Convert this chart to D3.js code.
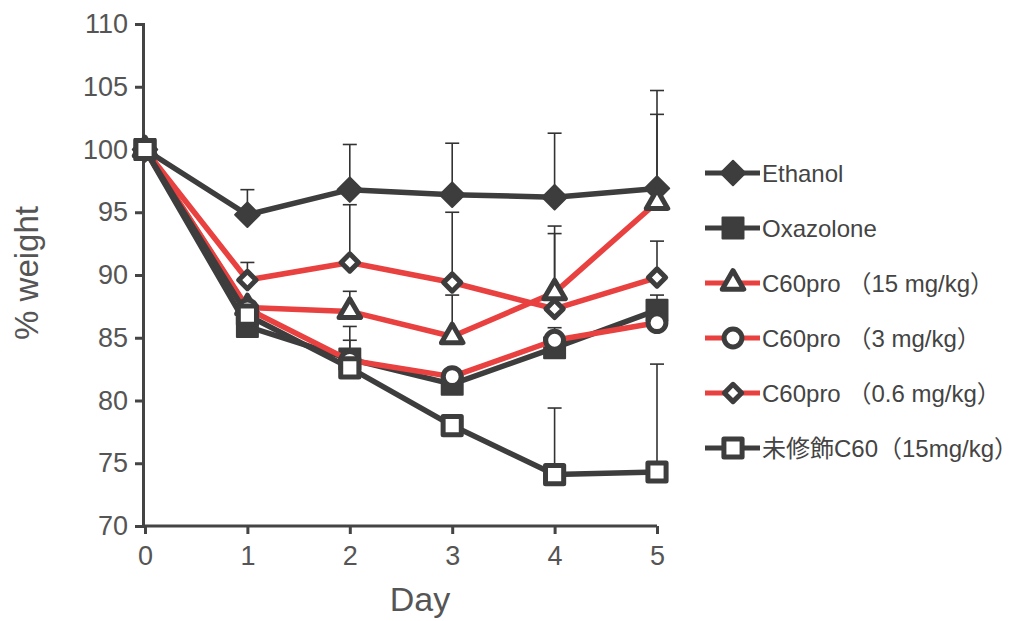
<!DOCTYPE html>
<html>
<head>
<meta charset="utf-8">
<script src="https://cdn.jsdelivr.net/npm/d3@7"></script>
<style>
  body { margin: 0; background: #fff; }
  text { font-family: "Liberation Sans", Arial, "Noto Sans CJK JP", sans-serif; }
</style>
</head>
<body>
<svg id="chart" width="1023" height="621"></svg>
<script>
// values
var days = [0, 1, 2, 3, 4, 5]
var yTicks = [70, 75, 80, 85, 90, 95, 100, 105, 110]

var ethanol      = [100, 94.8, 96.8, 96.4, 96.2, 96.9]
var ethanolErr   = [0, 2.0, 3.6, 4.1, 5.1, 7.8]
var oxazolone    = [100, 85.9, 83.3, 81.3, 84.2, 87.2]
var oxazoloneErr = [0, 0.8, 1.5, 1.0, 1.2, 1.2]
var c60pro15     = [100, 87.4, 87.1, 85.1, 88.6, 95.8]
var c60pro15Err  = [0, 0, 1.6, 3.3, 5.3, 7.0]
var c60pro3      = [100, 87.3, 83.2, 81.9, 84.8, 86.2]
var c60pro3Err   = [0, 0.5, 2.7, 0.5, 1.0, 0.5]
var c60pro06     = [100, 89.6, 91.0, 89.4, 87.3, 89.8]
var c60pro06Err  = [0, 1.4, 4.6, 5.6, 6.0, 2.9]
var rawC60       = [100, 86.8, 82.6, 78.0, 74.1, 74.3]
var rawC60Err    = [0, 0.3, 0.3, 0.5, 5.3, 8.6]

var dark = "#3d3d3d", red = "#e8413f"

var series = [
  {name: "Ethanol", vals: ethanol, err: ethanolErr, line: dark, shape: "diamond", fill: dark, size: 300},
  {name: "Oxazolone", vals: oxazolone, err: oxazoloneErr, line: dark, shape: "square", fill: dark, size: 440},
  {name: "C60pro （15 mg/kg）", vals: c60pro15, err: c60pro15Err, line: red, shape: "triangle", fill: "#fff", size: 200},
  {name: "C60pro （3 mg/kg）", vals: c60pro3, err: c60pro3Err, line: red, shape: "circle", fill: "#fff", size: 250},
  {name: "C60pro （0.6 mg/kg）", vals: c60pro06, err: c60pro06Err, line: red, shape: "diamond", fill: "#fff", size: 150},
  {name: "未修飾C60（15mg/kg）", vals: rawC60, err: rawC60Err, line: dark, shape: "square", fill: "#fff", size: 330}
]

var svg = d3.select("#chart")

var x = d3.scaleLinear().domain([0, 5]).range([145, 657])
var y = d3.scaleLinear().domain([70, 110]).range([526, 24])

// axes
svg.append("g")
  .attr("transform", "translate(143,0)")
  .call(d3.axisLeft(y).tickValues(yTicks).tickSize(8).tickPadding(7))
var xAxis = svg.append("g")
  .attr("transform", "translate(0,526)")
  .call(d3.axisBottom(x).tickValues(days).tickFormat(d3.format("d")).tickSize(8).tickPadding(12))
xAxis.select(".domain").attr("d", "M143,0H657")

svg.selectAll(".domain, .tick line")
  .attr("stroke", "#444").attr("stroke-width", 3)
svg.selectAll(".tick text")
  .style("font-size", "27px").attr("fill", "#555")
  .style("font-family", "Liberation Sans, Arial, sans-serif")

svg.append("text")
  .attr("transform", "translate(38,273) rotate(-90)")
  .attr("text-anchor", "middle")
  .style("font-size", "33px").attr("fill", "#555")
  .text("% weight")
svg.append("text")
  .attr("x", 420).attr("y", 611)
  .attr("text-anchor", "middle")
  .style("font-size", "34px").attr("fill", "#555")
  .text("Day")

function symbolPath(s) {
  var type = {diamond: d3.symbolSquare, square: d3.symbolSquare,
              triangle: d3.symbolTriangle, circle: d3.symbolCircle}[s.shape]
  return d3.symbol().type(type).size(s.size)()
}
function symbolRot(s) { return s.shape == "diamond" ? " rotate(45)" : "" }

// error bars (upper only)
series.forEach(function (s) {
  var g = svg.append("g").attr("stroke", "#333").attr("stroke-width", 1.6)
  days.forEach(function (d, i) {
    if (!s.err[i]) return
    var y0 = y(s.vals[i]), y1 = y(s.vals[i] + s.err[i]), cx = x(d)
    g.append("line").attr("x1", cx).attr("x2", cx).attr("y1", y0).attr("y2", y1)
    g.append("line").attr("x1", cx - 7).attr("x2", cx + 7).attr("y1", y1).attr("y2", y1)
  })
})

var line = d3.line().x(function (d, i) { return x(days[i]) }).y(function (d) { return y(d) })

series.forEach(function (s) {
  svg.append("path")
    .attr("d", line(s.vals))
    .attr("fill", "none")
    .attr("stroke", s.line)
    .attr("stroke-width", 5.5)
    .attr("stroke-linejoin", "round")

  svg.append("g").selectAll("path")
    .data(s.vals)
    .join("path")
    .attr("d", symbolPath(s))
    .attr("transform", function (d, i) { return "translate(" + x(days[i]) + "," + y(d) + ")" + symbolRot(s) })
    .attr("fill", s.fill)
    .attr("stroke", dark)
    .attr("stroke-width", s.fill == dark ? 2 : 5)
    .attr("stroke-linejoin", "round")
})

// legend
var legend = svg.append("g")
series.forEach(function (s, i) {
  var ly = 173 + i * 55
  legend.append("line")
    .attr("x1", 705).attr("x2", 760).attr("y1", ly).attr("y2", ly)
    .attr("stroke", s.line).attr("stroke-width", 5)
  legend.append("path")
    .attr("d", symbolPath(s))
    .attr("transform", "translate(733," + ly + ")" + symbolRot(s))
    .attr("fill", s.fill).attr("stroke", dark)
    .attr("stroke-width", s.fill == dark ? 2 : 5)
    .attr("stroke-linejoin", "round")
  legend.append("text")
    .attr("x", 762).attr("y", ly + 9)
    .style("font-size", "24px").attr("fill", "#444")
    .text(s.name)
})
</script>
</body>
</html>
